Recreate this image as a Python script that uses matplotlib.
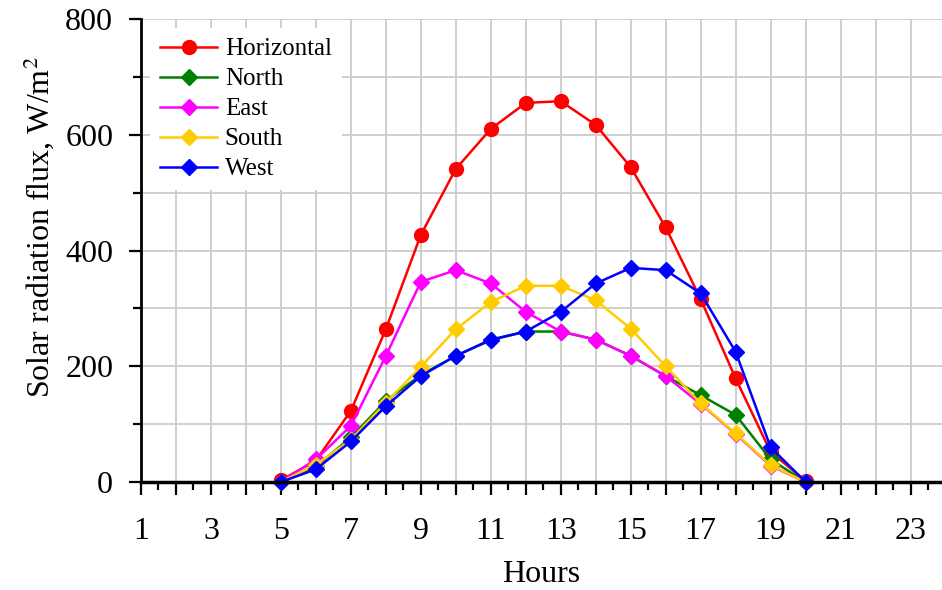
import matplotlib.pyplot as plt
from matplotlib.ticker import MultipleLocator, FuncFormatter

# hourly solar radiation flux by surface orientation
hours = [5, 6, 7, 8, 9, 10, 11, 12, 13, 14, 15, 16, 17, 18, 19, 20]
horizontal = [3, 37, 123, 264, 427, 541, 610, 655, 658, 617, 544, 440, 316, 179, 52, 2]
north = [0, 27, 77, 140, 185, 218, 245, 260, 260, 246, 218, 183, 150, 116, 39, 0]
east = [0, 39, 97, 218, 346, 366, 343, 294, 260, 246, 218, 183, 135, 83, 28, 0]
south = [0, 30, 73, 137, 199, 264, 311, 339, 339, 314, 265, 200, 136, 84, 29, 0]
west = [0, 22, 70, 131, 183, 218, 246, 260, 294, 343, 370, 366, 326, 225, 60, 0]

plt.rcParams['font.family'] = ['Liberation Serif', 'DejaVu Serif']
plt.rcParams['mathtext.fontset'] = 'stix'

fig = plt.figure(figsize=(9.42, 5.9), dpi=100)
ax = fig.add_axes([141/942, 1-482/590, 1-141/942, (482-19)/590])

ax.plot(hours, horizontal, color='#ff0000', marker='o', ms=10, lw=1.8, label='Horizontal', clip_on=False)
ax.plot(hours, north, color='#008000', marker='D', ms=8.5, lw=1.8, label='North', clip_on=False)
ax.plot(hours, east, color='#ff00ff', marker='D', ms=8.5, lw=1.8, label='East', clip_on=False)
ax.plot(hours, south, color='#ffcc00', marker='D', ms=8.5, lw=1.8, label='South', clip_on=False)
ax.plot(hours, west, color='#0000ff', marker='D', ms=8.5, lw=1.8, label='West', clip_on=False)

ax.set_xlim(1, 23.9)
ax.set_ylim(0, 800)

# long ticks every hour, short every half hour, labels on odd hours only
ax.xaxis.set_major_locator(MultipleLocator(1))
ax.xaxis.set_minor_locator(MultipleLocator(0.5))
ax.xaxis.set_major_formatter(FuncFormatter(lambda v, p: '%d' % v if int(round(v)) % 2 == 1 else ''))
ax.yaxis.set_major_locator(MultipleLocator(200))
ax.yaxis.set_minor_locator(MultipleLocator(100))

ax.grid(True, which='major', axis='x', color='#cccccc', lw=1.3)
ax.grid(True, which='both', axis='y', color='#cccccc', lw=1.3)
ax.set_axisbelow(True)

ax.tick_params(axis='x', which='major', direction='out', length=9, width=1.6, labelsize=23, pad=16)
ax.tick_params(axis='x', which='minor', direction='out', length=6, width=1.6)
ax.tick_params(axis='y', which='major', direction='out', length=9, width=1.6, labelsize=23, pad=11)
ax.tick_params(axis='y', which='minor', direction='out', length=6, width=1.6)

ax.spines['top'].set_visible(False)
ax.spines['right'].set_visible(False)
ax.spines['left'].set_linewidth(2)
ax.spines['bottom'].set_linewidth(2.5)

ax.set_xlabel('Hours', fontsize=23, labelpad=10)
ax.set_ylabel('Solar radiation flux, W/m$^2$', fontsize=23)
ax.yaxis.set_label_coords(-0.106, 0.55)

leg = ax.legend(loc='upper left', fontsize=18, frameon=True, fancybox=False, edgecolor='white',
                framealpha=1, handlelength=2.3, labelspacing=0.3, borderaxespad=0.35,
                handletextpad=0.3, borderpad=0.4)
leg.get_frame().set_linewidth(0)

fig.savefig('out.png', dpi=100)
